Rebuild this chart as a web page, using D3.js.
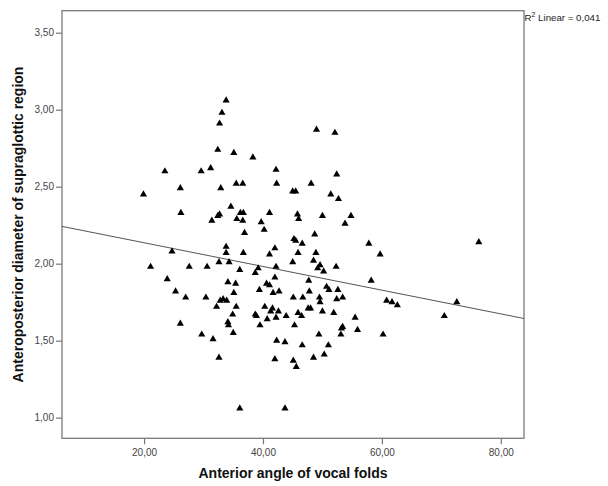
<!DOCTYPE html>
<html>
<head>
<meta charset="utf-8">
<script src="https://cdn.jsdelivr.net/npm/d3@7"></script>
<style>
  html, body { margin: 0; padding: 0; background: #fff; }
  svg { display: block; font-family: "Liberation Sans", Arial, sans-serif; }
</style>
</head>
<body>
<svg id="chart" width="608" height="486"></svg>
<script>
// Anterior angle of vocal folds (x) vs anteroposterior diameter of supraglottic region (y)
const angle = [
  33.8,33.1,32.7,32.4,35.1,38.3,23.5,29.6,31.2,19.9,26.1,32.9,35.5,36.6,
  26.2,34.6,36.2,36.7,31.4,32.4,32.7,35.6,36.6,39.7,41.1,36.9,40.2,24.7,
  33.8,33.8,36.7,41.1,21.1,27.6,30.6,32.6,34.3,36.1,39.2,38.7,23.9,34.1,
  35.4,40.6,41.1,25.3,35.1,39.4,27.0,30.4,32.8,33.3,33.9,32.2,35.5,40.3,
  34.9,38.7,38.9,40.7,26.1,34.1,34.2,39.5,29.7,31.6,35.0,32.6,36.1,
  49.0,52.1,42.2,52.4,42.3,48.1,45.0,45.5,51.4,52.7,
  45.8,46.0,50.0,54.8,53.8,48.7,45.2,45.5,46.6,57.8,42.0,45.9,48.9,59.7,
  45.0,48.5,49.6,49.2,52.3,42.2,50.2,42.0,47.7,58.2,50.7,51.1,52.6,47.8,
  41.7,42.7,45.1,46.7,49.5,49.6,52.4,53.4,60.8,61.7,62.6,41.6,41.3,42.6,
  47.6,48.0,50.0,51.9,45.9,43.9,42.2,46.5,55.5,
  45.3,53.4,53.2,55.9,49.4,53.1,60.2,42.3,43.7,46.6,51.0,50.3,48.5,42.0,
  45.1,45.6,43.7,76.3,72.6,70.5
];
const diameter = [
  3.06,2.98,2.91,2.74,2.72,2.69,2.60,2.60,2.62,2.45,2.49,2.49,2.52,2.52,
  2.33,2.37,2.33,2.33,2.28,2.31,2.32,2.29,2.28,2.27,2.33,2.20,2.22,2.08,
  2.11,2.07,2.07,2.06,1.98,1.98,1.98,2.01,2.01,1.96,1.97,1.94,1.90,1.88,
  1.87,1.87,1.86,1.82,1.81,1.83,1.78,1.78,1.76,1.77,1.76,1.72,1.72,1.72,
  1.67,1.67,1.66,1.64,1.61,1.62,1.60,1.60,1.54,1.51,1.55,1.39,1.06,
  2.87,2.85,2.61,2.58,2.52,2.52,2.47,2.47,2.45,2.42,
  2.32,2.29,2.31,2.31,2.26,2.19,2.16,2.15,2.13,2.13,2.10,2.07,2.07,2.06,
  2.01,2.02,1.99,1.97,1.98,1.98,1.95,1.91,1.89,1.89,1.85,1.83,1.83,1.82,
  1.81,1.82,1.78,1.78,1.78,1.75,1.77,1.78,1.76,1.75,1.73,1.71,1.69,1.69,
  1.71,1.71,1.69,1.68,1.68,1.66,1.65,1.66,1.65,
  1.60,1.59,1.58,1.57,1.54,1.54,1.54,1.50,1.49,1.47,1.47,1.41,1.39,1.38,
  1.37,1.33,1.06,2.14,1.75,1.66
];
const xTicks = [20, 40, 60, 80];
const yTicks = [1.0, 1.5, 2.0, 2.5, 3.0, 3.5];
const xDomain = [6.2, 83.9];
const yDomain = [0.866, 3.643];
// Linear fit as shown in the picture
const fitIntercept = 2.29;
const fitSlope = -0.0077;
const r2Label = "0,041";
const xTitle = "Anterior angle of vocal folds";
const yTitle = "Anteroposterior diameter of supraglottic region";

const svg = d3.select("#chart");
const plot = { left: 62, right: 524, top: 10.7, bottom: 438.3 };

const x = d3.scaleLinear().domain(xDomain).range([plot.left, plot.right]);
const y = d3.scaleLinear().domain(yDomain).range([plot.bottom, plot.top]);
const fmt = v => d3.format(".2f")(v).replace(".", ",");

// Axes
const xAxis = svg.append("g")
  .attr("transform", `translate(0,${plot.bottom})`)
  .call(d3.axisBottom(x).tickValues(xTicks).tickFormat(fmt).tickSize(6).tickSizeOuter(0));
const yAxis = svg.append("g")
  .attr("transform", `translate(${plot.left},0)`)
  .call(d3.axisLeft(y).tickValues(yTicks).tickFormat(fmt).tickSize(6).tickSizeOuter(0));
[xAxis, yAxis].forEach(g => {
  g.select(".domain").remove();
  g.selectAll(".tick line").attr("stroke", "#777").attr("stroke-width", 1.2);
  g.selectAll(".tick text").attr("fill", "#444").attr("font-size", 10)
    .attr("font-family", "Liberation Sans, Arial, sans-serif");
});
xAxis.selectAll(".tick text").attr("dy", "0.95em").attr("y", 8);
yAxis.selectAll(".tick text").attr("x", -8);

// Frame
svg.append("rect")
  .attr("x", plot.left).attr("y", plot.top)
  .attr("width", plot.right - plot.left).attr("height", plot.bottom - plot.top)
  .attr("fill", "none").attr("stroke", "#7a7a7a").attr("stroke-width", 1.3);

// Fit line
svg.append("line")
  .attr("x1", x(xDomain[0])).attr("y1", y(fitIntercept + fitSlope * xDomain[0]))
  .attr("x2", x(xDomain[1])).attr("y2", y(fitIntercept + fitSlope * xDomain[1]))
  .attr("stroke", "#555").attr("stroke-width", 1);

// Points
const pts = angle.map((a, i) => ({ a, d: diameter[i] }));
svg.append("g").selectAll("path").data(pts).join("path")
  .attr("d", d3.symbol().type(d3.symbolTriangle).size(22))
  .attr("transform", p => `translate(${x(p.a)},${y(p.d)})`)
  .attr("fill", "#000");

// R² label
const r2 = svg.append("text").attr("x", plot.right + 0.5).attr("y", 20.5)
  .attr("font-size", 9.7).attr("fill", "#222");
r2.append("tspan").text("R");
r2.append("tspan").attr("font-size", 7).attr("dy", -3.8).text("2");
r2.append("tspan").attr("dy", 3.8).text(` Linear = ${r2Label}`);

// Titles
svg.append("text")
  .attr("x", (plot.left + plot.right) / 2).attr("y", 478)
  .attr("text-anchor", "middle").attr("font-weight", "bold").attr("font-size", 14)
  .attr("fill", "#111").text(xTitle);
svg.append("text")
  .attr("transform", `translate(23,${(plot.top + plot.bottom) / 2}) rotate(-90)`)
  .attr("text-anchor", "middle").attr("font-weight", "bold").attr("font-size", 14)
  .attr("fill", "#111").text(yTitle);
</script>
</body>
</html>
